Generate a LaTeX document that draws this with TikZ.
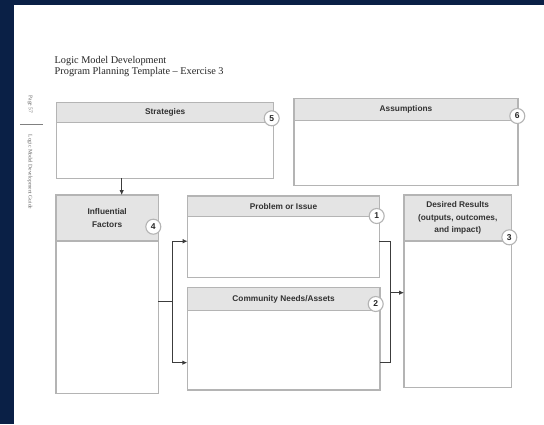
\documentclass[tikz,border=0pt]{standalone}
\usepackage{fontspec}
\setmainfont{Liberation Serif}
\setsansfont{Liberation Sans}
\usetikzlibrary{arrows.meta}
\definecolor{navy}{RGB}{10,32,70}
\definecolor{boxline}{RGB}{180,180,180}
\definecolor{headfill}{RGB}{228,228,228}
\definecolor{conn}{RGB}{60,60,60}
\definecolor{headtext}{RGB}{50,50,50}
\begin{document}
\begin{tikzpicture}[x=1pt,y=-1pt,
  boxbody/.style={draw=boxline,line width=1.1pt,fill=white,anchor=north west,inner sep=0pt,outer sep=0pt},
  boxhead/.style={draw=boxline,line width=1.1pt,fill=headfill,anchor=north west,inner sep=0pt,outer sep=0pt,
    font=\sffamily\bfseries\fontsize{8.3}{12.3}\selectfont,text=headtext,align=center},
  numc/.style={circle,draw=boxline,line width=1.1pt,fill=white,minimum size=15pt,inner sep=0pt,
    font=\sffamily\bfseries\fontsize{8.5}{9}\selectfont,text=black!85},
  sidetext/.style={rotate=-90,inner sep=0pt,text=black!60,font=\fontsize{5.5}{6}\selectfont},
  connline/.style={draw=conn,line width=0.9pt},
  arr/.style={connline,-{Latex[length=5pt,width=4.5pt]}}]
\fill[navy] (0,0) rectangle (544,424);
\fill[white] (14,5) rectangle (544,424);
\useasboundingbox (0,0) rectangle (544,424);

% title
\node[anchor=north west,inner sep=0pt,align=left,text=black!85,font=\fontsize{10.3}{11}\selectfont] (title) at (54.5,56)
  {Logic Model Development\\Program Planning Template -- Exercise 3};

% sidebar
\node[sidetext] (pg) at (30,104.5) {Page 57};
\node[sidetext] (guide) at (30,172) {Logic Model Development Guide};
\coordinate (sa) at (20,124.3);
\coordinate (sb) at (43,124.3);
\draw[black!50,line width=0.6pt] (sa) -- (sb);

% Strategies
\node[boxbody,minimum width=217pt,minimum height=75.5pt] (strat) at (56.7,102.7) {};
\node[boxhead,minimum width=217pt,minimum height=20pt] (strath) at (56.7,102.7) {Strategies};
\node[numc] (c5) at (271.7,118.3) {5};

% Assumptions
\node[boxbody,minimum width=224pt,minimum height=87.4pt] (assm) at (294,98.3) {};
\node[boxhead,minimum width=224pt,minimum height=22.4pt] (assmh) at (294,98.3) {Assumptions};
\node[numc] (c6) at (517.3,116) {6};

% Influential Factors
\node[boxbody,minimum width=102.3pt,minimum height=198.3pt] (infl) at (56,195) {};
\node[boxhead,minimum width=102.3pt,minimum height=46pt] (inflh) at (56,195) {Influential\\Factors};
\node[numc] (c4) at (153.3,226.7) {4};

% Problem or Issue
\node[boxbody,minimum width=191.6pt,minimum height=81.3pt] (prob) at (187.7,196) {};
\node[boxhead,minimum width=191.6pt,minimum height=20.7pt] (probh) at (187.7,196) {Problem or Issue};
\node[numc] (c1) at (376.7,216) {1};

% Community Needs/Assets
\node[boxbody,minimum width=192.7pt,minimum height=102.7pt] (comm) at (187.3,287.3) {};
\node[boxhead,minimum width=192.7pt,minimum height=23.4pt] (commh) at (187.3,287.3) {Community Needs/Assets};
\node[numc] (c2) at (375.7,304) {2};

% Desired Results
\node[boxbody,minimum width=107.5pt,minimum height=192.7pt] (des) at (404,195) {};
\node[boxhead,minimum width=107.5pt,minimum height=46pt] (desh) at (404,195) {Desired Results\\(outputs, outcomes,\\and impact)};
\node[numc] (c3) at (509.3,237.3) {3};

% helper coordinates
\coordinate (xa) at (121.7,0);
\coordinate (lb) at (172.3,0);
\coordinate (rb) at (390,0);
\coordinate (yt) at (0,241.2);
\coordinate (ym) at (0,301.7);
\coordinate (yb) at (0,362.7);
\coordinate (yr) at (0,292.7);

% connectors
\draw[arr] (strat.south -| xa) -- (inflh.north -| xa);
\draw[connline] (infl.east |- ym) -- (lb |- ym);
\draw[arr] (lb |- ym) -- (lb |- yt) -- (prob.west |- yt);
\draw[arr] (lb |- ym) -- (lb |- yb) -- (comm.west |- yb);
\draw[connline] (prob.east |- yt) -- (rb |- yt) -- (rb |- yb) -- (comm.east |- yb);
\draw[arr] (rb |- yr) -- (des.west |- yr);
\end{tikzpicture}
\end{document}
